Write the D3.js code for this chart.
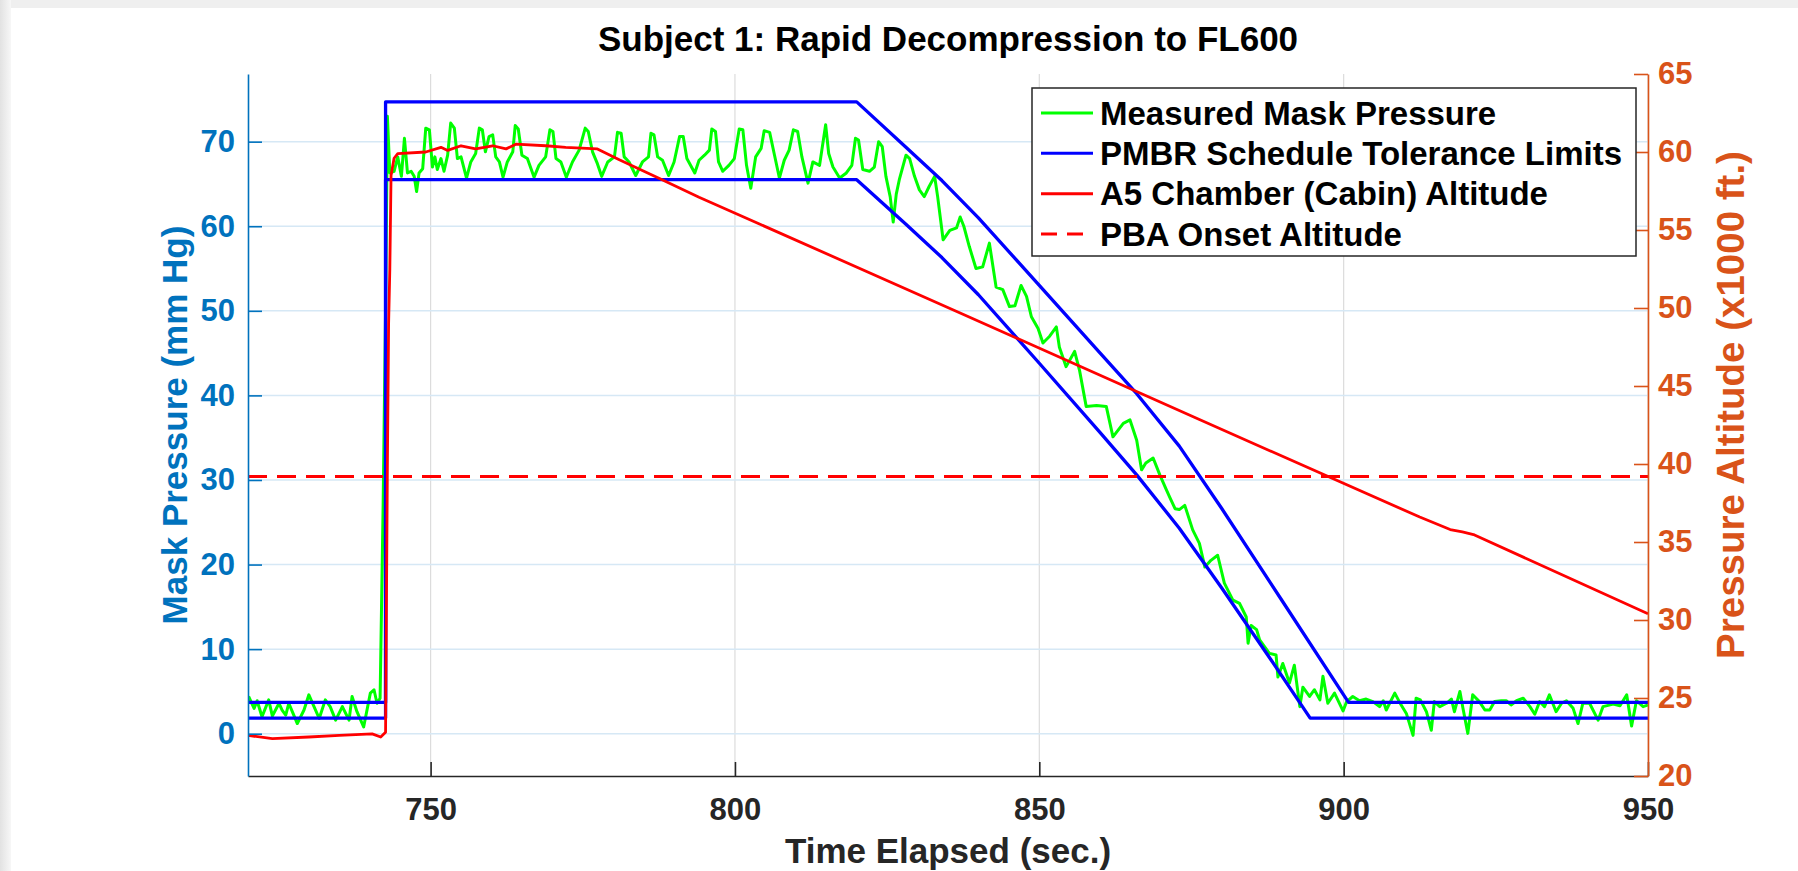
<!DOCTYPE html>
<html><head><meta charset="utf-8">
<script src="https://cdn.jsdelivr.net/npm/d3@7"></script>
<style>
body{margin:0;background:#fff}
svg{display:block}
text{font-family:"Liberation Sans",Arial,Helvetica,sans-serif;font-weight:bold}
</style>
</head><body><svg id="c" width="1798" height="871"></svg>
<script>
// ---------------- data ----------------
const titleText = "Subject 1: Rapid Decompression to FL600";
const xLabel = "Time Elapsed (sec.)";
const yLeftLabel = "Mask Pressure (mm Hg)";
const yRightLabel = "Pressure Altitude (x1000 ft.)";
const xTicks = [750, 800, 850, 900, 950];
const yLeftTicks = [0, 10, 20, 30, 40, 50, 60, 70];
const yRightTicks = [20, 25, 30, 35, 40, 45, 50, 55, 60, 65];
const legendLabels = ["Measured Mask Pressure", "PMBR Schedule Tolerance Limits", "A5 Chamber (Cabin) Altitude", "PBA Onset Altitude"];

const greenTime = [720.1,721.0,721.5,722.3,723.4,724.0,725.1,725.6,726.2,726.7,727.4,728.1,729.2,730.0,731.1,731.7,732.7,733.5,734.4,735.5,736.6,737.1,737.9,739.0,740.1,740.7,741.2,741.7,742.2,742.6,742.9,743.3,744.0,744.6,745.2,745.7,746.2,746.8,747.3,747.7,748.1,748.7,749.2,749.8,750.3,750.7,751.1,751.7,752.2,752.8,753.3,753.9,754.4,755.0,755.9,756.6,757.4,758.0,758.5,759.0,759.6,760.2,760.7,761.3,761.9,762.6,763.5,763.9,764.4,765.0,765.9,767.0,767.8,768.9,769.6,770.1,770.6,771.4,772.3,773.3,774.4,775.4,775.9,776.6,777.4,778.1,779.1,780.2,780.7,781.3,781.8,782.6,783.7,784.8,785.8,786.2,786.7,787.3,788.1,789.1,790.0,790.9,791.5,792.1,793.4,794.1,795.0,795.8,796.2,796.8,797.3,798.0,799.0,799.9,800.7,801.3,801.9,802.6,803.4,804.3,804.8,805.7,806.5,807.3,808.1,808.9,809.6,810.3,811.0,812.0,812.8,813.9,814.9,815.4,816.1,817.2,818.3,819.2,819.8,820.3,821.0,822.1,822.9,823.6,824.2,824.8,825.5,826.0,826.5,827.0,828.1,828.7,829.5,830.3,831.1,831.9,832.8,833.3,834.2,835.3,836.4,837.0,837.6,838.5,839.6,840.7,841.8,842.9,844.0,845.1,846.0,847.0,847.9,848.7,849.8,850.6,851.7,852.8,853.3,854.4,855.8,856.6,857.7,859.4,861.0,862.1,863.8,864.9,866.0,866.8,867.5,868.7,869.8,870.9,871.4,872.3,873.0,873.9,875.2,876.3,877.2,878.2,879.3,880.4,881.8,882.9,884.0,884.3,884.8,885.7,886.2,887.8,888.9,889.2,890.0,891.1,891.9,892.8,893.3,894.4,895.2,896.1,896.6,897.4,898.5,899.9,900.5,901.5,902.6,903.7,904.8,905.9,906.5,907.0,908.4,909.2,910.3,911.4,911.9,912.6,913.6,914.4,914.9,915.8,916.9,917.7,918.2,919.1,919.6,920.4,921.2,922.3,923.2,924.0,924.8,925.9,926.7,927.5,928.4,929.5,930.6,931.4,932.2,933.0,933.8,934.9,935.8,936.6,937.7,938.5,939.3,940.4,941.8,942.6,944.3,945.4,946.5,947.3,948.1,949.2,950.0];
const greenValue = [4.4,3.0,3.9,2.0,4.0,2.1,3.6,2.8,2.2,3.6,2.4,1.2,2.8,4.6,2.8,1.8,4.0,3.2,1.6,3.2,1.6,4.4,2.6,0.8,4.8,5.2,3.6,4.2,27.0,50.0,73.0,66.3,66.5,68.2,65.9,70.4,66.3,66.5,65.9,64.1,66.3,66.8,71.6,71.4,67.0,68.2,66.7,68.0,66.5,68.4,72.2,71.6,68.0,68.2,65.7,67.6,68.6,71.6,71.4,68.8,70.6,70.8,68.2,67.6,65.8,67.6,68.8,71.9,71.5,68.4,68.0,65.8,67.2,68.2,71.4,71.2,68.0,67.6,65.8,67.6,69.0,71.6,71.2,68.8,67.4,65.9,67.6,68.2,71.1,71.0,68.2,67.6,66.0,67.6,68.2,71.0,70.8,68.2,67.8,66.0,67.6,70.6,70.6,68.0,66.3,67.8,68.4,69.0,71.5,71.2,67.6,66.5,67.2,68.0,71.5,71.4,67.2,64.5,68.2,69.2,71.3,71.1,68.4,65.7,67.8,69.0,71.4,71.2,68.2,65.1,67.6,67.2,72.0,68.6,67.0,65.7,66.3,67.2,70.4,70.2,66.7,66.5,67.0,70.0,69.4,65.9,63.5,60.5,63.8,65.5,68.4,68.0,65.9,64.3,63.5,64.7,65.9,63.5,58.4,59.5,59.8,61.1,60.0,57.6,55.0,55.2,58.0,52.8,52.5,50.5,50.6,53.0,51.7,49.3,47.9,46.2,47.0,48.1,45.7,43.4,45.2,43.0,38.7,38.8,38.7,35.1,36.7,37.1,34.7,31.2,32.0,32.6,30.6,28.8,28.0,26.6,26.5,27.0,24.1,22.5,19.7,20.5,21.1,17.8,15.8,15.4,13.8,10.7,12.8,12.3,11.1,9.5,9.3,6.7,8.3,6.0,8.1,3.2,5.5,4.4,5.2,4.0,6.8,3.6,4.8,2.7,3.8,4.4,3.9,4.1,3.8,3.2,3.9,2.8,4.8,3.7,2.4,-0.2,4.2,4.0,2.6,0.4,3.8,3.2,3.6,4.1,2.6,5.0,3.0,0.04,4.6,3.8,2.8,2.8,3.8,3.9,3.9,3.4,3.9,4.2,3.2,2.3,3.8,3.2,4.6,2.6,3.6,3.9,3.0,1.2,3.6,3.6,1.6,3.2,3.5,3.3,4.6,0.9,3.9,3.2,3.4];

const upperTime  = [720, 742.6, 742.6, 820, 828, 834, 840, 850, 860, 866, 873, 880, 890, 900.8, 950];
const upperValue = [3.7, 3.7, 74.7, 74.7, 69.4, 65.4, 61.0, 53.0, 45.0, 40.2, 34.0, 26.6, 15.6, 3.7, 3.7];
const lowerTime  = [720, 742.6, 742.6, 820, 828, 834, 840, 850, 860, 866, 873, 880, 888, 894.5, 950];
const lowerValue = [1.85, 1.85, 65.5, 65.5, 60.3, 56.3, 51.9, 43.8, 35.6, 30.6, 24.3, 17.2, 8.8, 1.85, 1.85];

const cabinTime  = [720,724,730,735,740.4,741.8,742.6,742.9,743.1,743.3,743.5,744.0,744.6,749.2,751.7,752.8,755.0,757.4,760.2,762.4,764.0,768.9,772.2,777.4,781.0,787.6,794.1,836.9,876.3,912.5,917.5,919.5,921.5,950];
const cabinAlt   = [22.6,22.4,22.5,22.6,22.7,22.5,22.8,40.0,49.0,52.5,58.5,59.6,59.9,60.0,60.3,60.1,60.4,60.2,60.4,60.2,60.5,60.4,60.3,60.2,59.5,58.3,57.1,49.7,42.85,36.6,35.8,35.65,35.45,30.4];

const pbaOnsetAlt = 39.2;
const xDomain = [720, 950], yLeftDomain = [-5, 78], yRightDomain = [20, 65];

// ---------------- drawing ----------------
const svg = d3.select("#c");
const L = 248, R = 1648, T = 74, B = 776;
const x = d3.scaleLinear(xDomain, [L, R]);
const yL = d3.scaleLinear(yLeftDomain, [B, T]);
const yR = d3.scaleLinear(yRightDomain, [B, T]);

const C_LEFT = "#0072BD", C_RIGHT = "#D95319", C_AX = "#262626";

// window frame shading
const defs = svg.append("defs");
const gl = defs.append("linearGradient").attr("id","lg").attr("x1",0).attr("x2",1).attr("y1",0).attr("y2",0);
gl.append("stop").attr("offset","0%").attr("stop-color","#e2e2e2");
gl.append("stop").attr("offset","100%").attr("stop-color","#f7f7f7");
svg.append("rect").attr("x",0).attr("y",0).attr("width",1798).attr("height",871).attr("fill","#fff");
svg.append("rect").attr("x",0).attr("y",0).attr("width",1798).attr("height",8).attr("fill","#efefef");
svg.append("rect").attr("x",0).attr("y",0).attr("width",11).attr("height",871).attr("fill","url(#lg)");

defs.append("clipPath").attr("id","clip").append("rect").attr("x",L).attr("y",T).attr("width",R-L).attr("height",B-T);

// grid
const grid = svg.append("g");
grid.selectAll("line.v").data(xTicks).join("line")
  .attr("x1",d=>x(d)).attr("x2",d=>x(d)).attr("y1",T).attr("y2",B)
  .attr("stroke","#dcdcdc").attr("stroke-width",1.2);
grid.selectAll("line.h").data(yLeftTicks).join("line")
  .attr("x1",L).attr("x2",R).attr("y1",d=>yL(d)).attr("y2",d=>yL(d))
  .attr("stroke","#d6e8f5").attr("stroke-width",1.5);

// data lines
const plot = svg.append("g").attr("clip-path","url(#clip)");
const zip = (a,b)=>a.map((t,i)=>[t,b[i]]);
const lineL = d3.line().x(d=>x(d[0])).y(d=>yL(d[1]));
const lineR = d3.line().x(d=>x(d[0])).y(d=>yR(d[1]));

plot.append("path").datum(zip(greenTime,greenValue)).attr("d",lineL)
  .attr("fill","none").attr("stroke","#00ff00").attr("stroke-width",3).attr("stroke-linejoin","round");
plot.append("path").datum(zip(upperTime,upperValue)).attr("d",lineL)
  .attr("fill","none").attr("stroke","#0000ff").attr("stroke-width",3.3).attr("stroke-linejoin","round");
plot.append("path").datum(zip(lowerTime,lowerValue)).attr("d",lineL)
  .attr("fill","none").attr("stroke","#0000ff").attr("stroke-width",3.3).attr("stroke-linejoin","round");
plot.append("path").datum(zip(cabinTime,cabinAlt)).attr("d",lineR)
  .attr("fill","none").attr("stroke","#ff0000").attr("stroke-width",2.8).attr("stroke-linejoin","round");
plot.append("path").datum(xDomain.map(t=>[t,pbaOnsetAlt])).attr("d",lineR)
  .attr("fill","none").attr("stroke","#ff0000").attr("stroke-width",2.8).attr("stroke-dasharray","19,10");

// axes
const FS_TICK = 31;
const gx = svg.append("g").attr("transform",`translate(0,${B})`)
  .call(d3.axisBottom(x).tickValues(xTicks).tickSizeInner(-14).tickSizeOuter(0).tickPadding(22).tickFormat(d3.format("d")));
gx.select(".domain").attr("stroke",C_AX).attr("stroke-width",1.6);
gx.selectAll(".tick line").attr("stroke",C_AX).attr("stroke-width",1.6);
gx.selectAll(".tick text").attr("fill",C_AX).attr("font-size",FS_TICK).attr("font-family",null);

const gyl = svg.append("g").attr("transform",`translate(${L},0)`)
  .call(d3.axisLeft(yL).tickValues(yLeftTicks).tickSizeInner(-14).tickSizeOuter(0).tickPadding(13));
gyl.select(".domain").attr("stroke",C_LEFT).attr("stroke-width",1.6);
gyl.selectAll(".tick line").attr("stroke",C_LEFT).attr("stroke-width",1.6);
gyl.selectAll(".tick text").attr("fill",C_LEFT).attr("font-size",FS_TICK).attr("font-family",null);

const gyr = svg.append("g").attr("transform",`translate(${R},0)`)
  .call(d3.axisRight(yR).tickValues(yRightTicks).tickSizeInner(-14).tickSizeOuter(0).tickPadding(10));
gyr.select(".domain").attr("stroke",C_RIGHT).attr("stroke-width",1.6);
gyr.selectAll(".tick line").attr("stroke",C_RIGHT).attr("stroke-width",1.6);
gyr.selectAll(".tick text").attr("fill",C_RIGHT).attr("font-size",FS_TICK).attr("font-family",null);

// titles & labels
svg.append("text").attr("x",(L+R)/2).attr("y",51).attr("text-anchor","middle")
  .attr("font-size",35).attr("fill","#000").text(titleText);
svg.append("text").attr("x",(L+R)/2).attr("y",863).attr("text-anchor","middle")
  .attr("font-size",35).attr("fill",C_AX).text(xLabel);
svg.append("text").attr("transform",`translate(187,${(T+B)/2}) rotate(-90)`).attr("text-anchor","middle")
  .attr("font-size",35).attr("fill",C_LEFT).text(yLeftLabel);
svg.append("text").attr("transform",`translate(1744,405) rotate(-90)`).attr("text-anchor","middle")
  .attr("font-size",38.5).attr("fill",C_RIGHT).text(yRightLabel);

// legend
const lg = svg.append("g");
lg.append("rect").attr("x",1032).attr("y",88).attr("width",604).attr("height",168)
  .attr("fill","#fff").attr("stroke","#262626").attr("stroke-width",1.5);
const legendStyles = [
  {c:"#00ff00", dash:null}, {c:"#0000ff", dash:null}, {c:"#ff0000", dash:null}, {c:"#ff0000", dash:"16,10"}];
const rowY = d3.scaleLinear([0,3],[113,234]);
legendLabels.forEach((lab,i)=>{
  const yy = rowY(i);
  lg.append("line").attr("x1",1041).attr("x2",1093).attr("y1",yy).attr("y2",yy)
    .attr("stroke",legendStyles[i].c).attr("stroke-width",3).attr("stroke-dasharray",legendStyles[i].dash);
  lg.append("text").attr("x",1100).attr("y",yy+11.5).attr("font-size",33).attr("fill","#000").text(lab);
});
</script>
</body></html>
